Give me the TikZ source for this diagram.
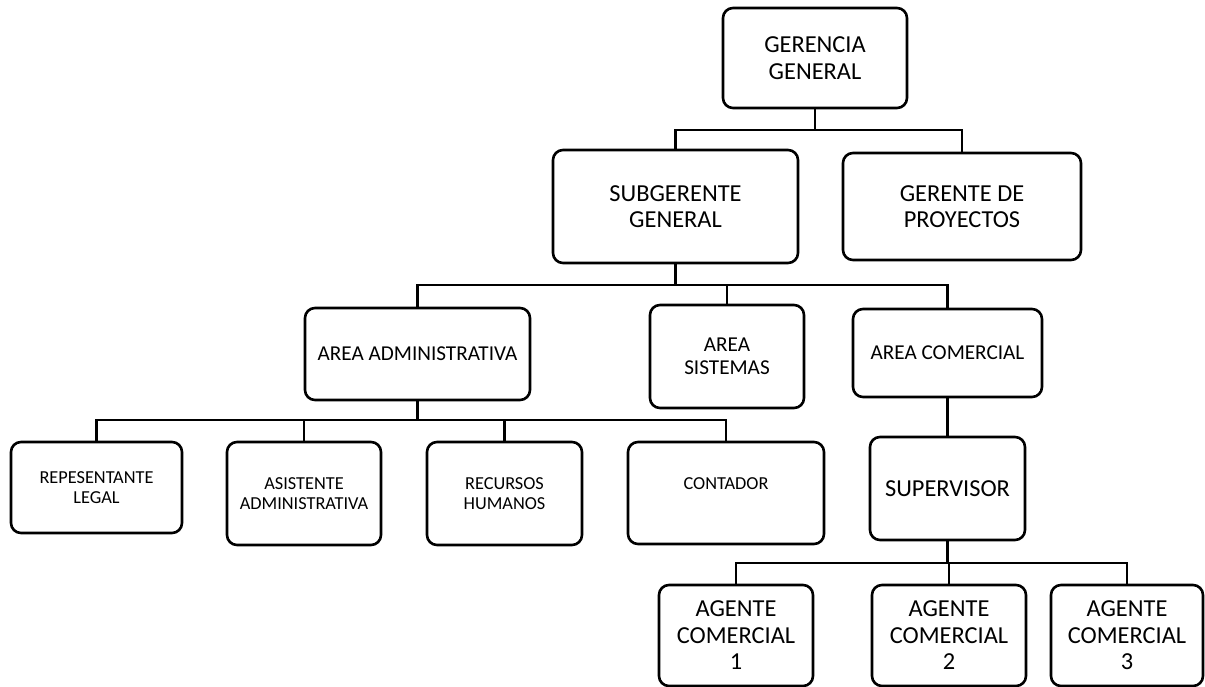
\documentclass[tikz,border=0pt]{standalone}
\usepackage{fontspec}
\setmainfont{Carlito}
\begin{document}
\begin{tikzpicture}[x=1pt,y=-1pt,
  box/.style={draw, line width=2.6pt, rounded corners=10pt, align=center, inner sep=0pt},
  big/.style={font=\fontsize{24.4}{26.5}\selectfont},
  mid/.style={font=\fontsize{21.2}{22.5}\selectfont},
  small/.style={font=\fontsize{18.3}{19.6}\selectfont},
  conn/.style={line width=2.2pt, line join=miter}]
\useasboundingbox (0,0) rectangle (1205,687);

% top management
\node[box,big,minimum width=184pt,minimum height=100pt] (ger) at (815,58) {GERENCIA\\GENERAL};
\node[box,big,minimum width=245pt,minimum height=113pt] (sub) at (675.5,206.5) {SUBGERENTE\\GENERAL};
\node[box,big,minimum width=238pt,minimum height=107pt] (gp) at (962,206.5) {GERENTE DE\\PROYECTOS};

% areas
\node[box,mid,minimum width=225pt,minimum height=92pt] (adm) at (417.5,354) {AREA ADMINISTRATIVA};
\node[box,mid,minimum width=154pt,minimum height=103pt] (sis) at (727,356.5) {AREA\\SISTEMAS};
\node[box,mid,minimum width=189pt,minimum height=88pt] (com) at (947.5,353) {AREA COMERCIAL};

% administrative staff
\node[box,small,minimum width=171pt,minimum height=91pt] (rep) at (96.5,487.5) {REPESENTANTE\\LEGAL};
\node[box,small,minimum width=154pt,minimum height=103pt] (asi) at (304,493.5) {ASISTENTE\\ADMINISTRATIVA};
\node[box,small,minimum width=155pt,minimum height=103pt] (rrhh) at (504.5,493.5) {RECURSOS\\HUMANOS};
\node[box,small,minimum width=196pt,minimum height=102pt] (con) at (726,493) {CONTADOR\\\mbox{}};

% commercial staff
\node[box,big,minimum width=155pt,minimum height=103pt] (sup) at (947.5,488.5) {SUPERVISOR};
\node[box,big,minimum width=154pt,minimum height=101pt] (ag1) at (736,635.5) {AGENTE\\COMERCIAL\\1};
\node[box,big,minimum width=154pt,minimum height=101pt] (ag2) at (949,635.5) {AGENTE\\COMERCIAL\\2};
\node[box,big,minimum width=152pt,minimum height=101pt] (ag3) at (1127,635.5) {AGENTE\\COMERCIAL\\3};

% bus levels
\coordinate (bus1) at (0,130);
\coordinate (bus2) at (0,285);
\coordinate (bus3) at (0,420);
\coordinate (bus4) at (0,563);

% connectors
\draw[conn] (ger.south) -- (ger.south |- bus1) -| (sub.north);
\draw[conn] (ger.south |- bus1) -| (gp.north);

\draw[conn] (sub.south) -- (sub.south |- bus2) -| (adm.north);
\draw[conn] (sub.south |- bus2) -| (sis.north);
\draw[conn] (sub.south |- bus2) -| (com.north);

\draw[conn] (adm.south) -- (adm.south |- bus3) -| (rep.north);
\draw[conn] (adm.south |- bus3) -| (asi.north);
\draw[conn] (adm.south |- bus3) -| (rrhh.north);
\draw[conn] (adm.south |- bus3) -| (con.north);

\draw[conn] (com.south) -- (sup.north);

\draw[conn] (sup.south) -- (sup.south |- bus4) -| (ag1.north);
\draw[conn] (sup.south |- bus4) -| (ag2.north);
\draw[conn] (sup.south |- bus4) -| (ag3.north);
\end{tikzpicture}
\end{document}
